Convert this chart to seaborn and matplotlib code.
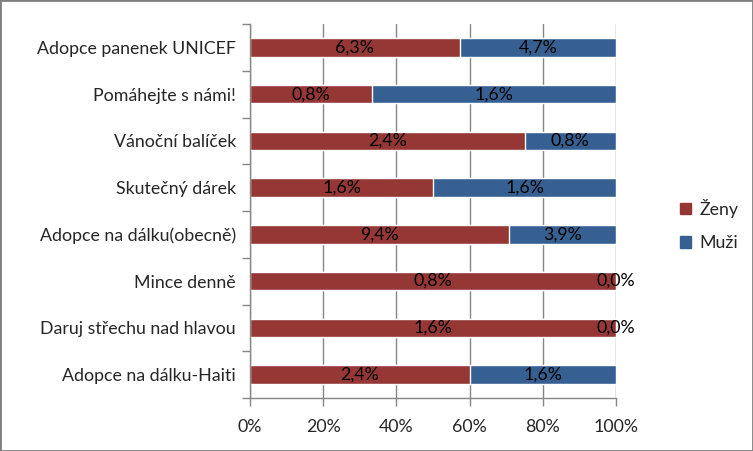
import matplotlib
matplotlib.use("Agg")
import matplotlib.pyplot as plt
import seaborn as sns
import pandas as pd
import numpy as np
from matplotlib.patches import Rectangle
from matplotlib.ticker import FixedLocator, PercentFormatter

categories = ["Adopce panenek UNICEF", "Pomáhejte s námi!", "Vánoční balíček",
              "Skutečný dárek", "Adopce na dálku(obecně)", "Mince denně",
              "Daruj střechu nad hlavou", "Adopce na dálku-Haiti"]
zeny = [6.3, 0.8, 2.4, 1.6, 9.4, 0.8, 1.6, 2.4]
muzi = [4.7, 1.6, 0.8, 1.6, 3.9, 0.0, 0.0, 1.6]
series_names = ["Ženy", "Muži"]

RED = "#953735"
BLUE = "#376092"
GRID = "#868686"

sns.set_theme(style="white")
plt.rcParams["font.family"] = ["Lato", "DejaVu Sans"]
FS = 12.8

z = np.array(zeny); m = np.array(muzi)
tot = z + m
zs = z / tot
df = pd.DataFrame({"cat": categories, "zeny": zs, "total": np.ones(len(categories))})

fig = plt.figure(figsize=(7.53, 4.51), dpi=100)
ax = fig.add_axes([250/753, 1-398/451, (616-250)/753, (398-24)/451])

sns.barplot(data=df, y="cat", x="total", color=BLUE, orient="h", width=0.4,
            saturation=1, ax=ax)
sns.barplot(data=df, y="cat", x="zeny", color=RED, orient="h", width=0.4,
            saturation=1, ax=ax)
if ax.get_legend() is not None:
    ax.get_legend().remove()

ax.set_xlim(0, 1)
ax.set_ylim(len(categories) - 0.5, -0.5)
ax.set_xlabel(""); ax.set_ylabel("")
ax.xaxis.set_major_locator(FixedLocator([0, 0.2, 0.4, 0.6, 0.8, 1.0]))
ax.xaxis.set_major_formatter(PercentFormatter(1.0, decimals=0))
ax.grid(axis="x", color=GRID, linewidth=1)
ax.set_axisbelow(True)
for s in ["top", "right"]:
    ax.spines[s].set_visible(False)
for s in ["left", "bottom"]:
    ax.spines[s].set_color(GRID)
    ax.spines[s].set_linewidth(1)
ax.tick_params(axis="x", length=6, color=GRID, width=1, labelsize=FS, pad=9,
               bottom=True, direction="out")
ax.tick_params(axis="y", which="major", length=0, labelsize=FS, pad=10)
ax.yaxis.set_minor_locator(FixedLocator(np.arange(-0.5, len(categories), 1)))
ax.tick_params(axis="y", which="minor", length=6, color=GRID, width=1, left=True)

def fmt(v):
    return f"{v:.1f}%".replace(".", ",")

for i in range(len(categories)):
    ax.text(zs[i] / 2, i, fmt(zeny[i]), ha="center", va="center", fontsize=FS, color="black")
    ax.text((zs[i] + 1) / 2, i, fmt(muzi[i]), ha="center", va="center", fontsize=FS, color="black")

handles = [Rectangle((0, 0), 1, 1, color=RED), Rectangle((0, 0), 1, 1, color=BLUE)]
fig.legend(handles, series_names, loc="center left", bbox_to_anchor=(664/753, 1-225/451),
           frameon=False, fontsize=FS, handlelength=0.6, handleheight=0.6,
           labelspacing=1.0, handletextpad=0.5)

fig.patches.append(Rectangle((0, 0), 1, 1, transform=fig.transFigure, fill=False,
                             edgecolor="#7f7f7f", linewidth=2))
fig.savefig("out.png", dpi=100)
